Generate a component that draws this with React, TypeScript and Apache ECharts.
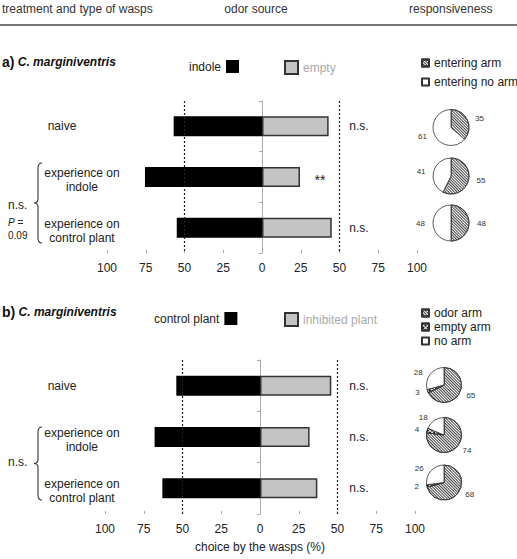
import React, { useEffect, useRef } from 'react';
import * as echarts from 'echarts';

// ---- data ----
const categories = ['naive', 'experience on\nindole', 'experience on\ncontrol plant'];
const indoleA = [57, 75.5, 55];
const emptyA = [43, 24.5, 45];
const sigA = ['n.s.', '**', 'n.s.'];
const controlB = [54, 68, 63];
const inhibitedB = [46, 32, 37];
const sigB = ['n.s.', 'n.s.', 'n.s.'];
const enteringArm = [35, 55, 48];
const enteringNoArm = [61, 41, 48];
const odorArm = [65, 74, 68];
const emptyArm = [3, 4, 2];
const noArm = [28, 18, 26];
const refLines = [-50, 50];

// ---- layout ----
const FONT = '"Liberation Sans", Arial, sans-serif';
const GA = { left: 107, top: 101, width: 310, height: 152 };
const GB = { left: 105, top: 360, width: 310, height: 154 };
const PIE_A = { x: 451, ys: [127.5, 176, 223], r: 18 };
const PIE_B = { x: 444, ys: [385, 435, 482.5], r: 17.5 };

const hatch = {
  symbol: 'rect', symbolSize: 1, color: '#444',
  dashArrayX: [1, 0], dashArrayY: [1, 1], rotation: Math.PI / 4,
};
const dense = {
  symbol: 'rect', symbolSize: 1, color: '#111',
  dashArrayX: [2, 1], dashArrayY: [2, 1], rotation: -Math.PI / 4,
};

function braceD(xr: number, y1: number, y2: number) {
  const xs = xr - 4;
  const xp = xr - 8;
  const ym = (y1 + y2) / 2;
  return `M ${xr} ${y1} Q ${xs} ${y1} ${xs} ${y1 + 5} L ${xs} ${ym - 4} Q ${xs} ${ym} ${xp} ${ym} Q ${xs} ${ym} ${xs} ${ym + 4} L ${xs} ${y2 - 5} Q ${xs} ${y2} ${xr} ${y2}`;
}

echarts.graphic.registerShape('braceA', echarts.graphic.extendPath(braceD(42, 163, 243), {}));
echarts.graphic.registerShape('braceB', echarts.graphic.extendPath(braceD(42, 427, 500), {}));

function bandY(g: { top: number; height: number }, i: number) {
  return g.top + (i + 0.5) * g.height / 3;
}

function catTexts(g: any) {
  return categories.map((c, i) => {
    const y = bandY(g, i);
    const multi = c.includes('\n');
    return {
      type: 'text',
      x: multi ? 82 : 62,
      y: multi ? y + 3 : y,
      style: {
        text: c, font: `12px ${FONT}`, fill: '#222',
        align: 'center', verticalAlign: 'middle', lineHeight: 14,
      },
    };
  });
}

function sigTexts(g: any, sig: string[]) {
  return sig.map((s, i) => ({
    type: 'text',
    x: s === '**' ? 320 : 359,
    y: bandY(g, i) + (s === '**' ? 3 : 0),
    style: { text: s, font: `${s === '**' ? 14 : 12}px ${FONT}`, fill: '#222', align: 'center', verticalAlign: 'middle' },
  }));
}

function axisPair(g: any, gi: number, withName: boolean) {
  const x: any = {
    type: 'value', gridIndex: gi, min: -100, max: 100, interval: 25,
    axisLine: { lineStyle: { color: '#aaa', width: 1 } },
    axisTick: { show: true, inside: true, length: 3, lineStyle: { color: '#aaa' } },
    splitLine: { show: false },
    axisLabel: { formatter: (v: number) => String(Math.abs(v)), fontSize: 12, color: '#222', fontFamily: FONT, margin: 9 },
  };
  if (withName) {
    Object.assign(x, {
      name: 'choice by the wasps (%)', nameLocation: 'middle', nameGap: 27,
      nameTextStyle: { fontSize: 12, color: '#222', fontFamily: FONT },
    });
  }
  const y: any = {
    type: 'category', gridIndex: gi, data: categories, inverse: true,
    axisLine: { onZero: true, lineStyle: { color: '#aaa', width: 1 } },
    axisTick: { show: true, length: 3, lineStyle: { color: '#aaa' } },
    axisLabel: { show: false },
  };
  return [x, y];
}

function barSeries(gi: number, leftName: string, leftVals: number[], rightName: string, rightVals: number[]) {
  return [
    {
      type: 'bar', name: leftName, xAxisIndex: gi, yAxisIndex: gi,
      data: leftVals.map((v) => -v), barWidth: 20,
      itemStyle: { color: '#000' },
      markLine: {
        silent: true, symbol: ['none', 'none'], label: { show: false },
        lineStyle: { type: [2, 2], color: '#222', width: 1.2 },
        data: refLines.map((v) => ({ xAxis: v })),
      },
    },
    {
      type: 'bar', name: rightName, xAxisIndex: gi, yAxisIndex: gi,
      data: rightVals, barWidth: 20, barGap: '-100%',
      itemStyle: { color: '#c4c4c4', borderColor: '#333', borderWidth: 1.5 },
    },
  ];
}

const pieLabel = { show: true, position: 'outside', formatter: '{c}', fontSize: 8, color: '#333', fontFamily: FONT };

function pieSeriesA() {
  return PIE_A.ys.map((cy, i) => ({
    type: 'pie', center: [PIE_A.x, cy], radius: PIE_A.r, startAngle: 90, clockwise: true,
    avoidLabelOverlap: false, silent: true,
    label: pieLabel, labelLine: { show: false, length: 3, length2: 0 },
    itemStyle: { borderColor: '#333', borderWidth: 0.8 },
    data: [
      { name: 'entering arm', value: enteringArm[i], itemStyle: { color: '#fff', decal: hatch } },
      { name: 'entering no arm', value: enteringNoArm[i], itemStyle: { color: '#fff' } },
    ],
  }));
}

function pieSeriesB() {
  return PIE_B.ys.map((cy, i) => ({
    type: 'pie', center: [PIE_B.x, cy], radius: PIE_B.r, startAngle: 90, clockwise: true,
    avoidLabelOverlap: false, silent: true,
    label: pieLabel, labelLine: { show: false, length: 3, length2: 0 },
    itemStyle: { borderColor: '#333', borderWidth: 0.8 },
    data: [
      { name: 'odor arm', value: odorArm[i], itemStyle: { color: '#fff', decal: hatch } },
      { name: 'empty arm', value: emptyArm[i], itemStyle: { color: '#fff', decal: dense } },
      { name: 'no arm', value: noArm[i], itemStyle: { color: '#fff' } },
    ],
  }));
}

const legendBase = {
  icon: 'rect', selectedMode: false,
  textStyle: { fontSize: 12, color: '#222', fontFamily: FONT },
};

export default function App() {
  const ref = useRef<HTMLDivElement>(null);
  useEffect(() => {
    if (!ref.current) return;
    const chart = echarts.init(ref.current, undefined, { renderer: 'svg' });
    const [xa, ya] = axisPair(GA, 0, false);
    const [xb, yb] = axisPair(GB, 1, true);
    const option: any = {
      animation: false,
      backgroundColor: '#fff',
      grid: [
        { ...GA, containLabel: false },
        { ...GB, containLabel: false },
      ],
      xAxis: [xa, xb],
      yAxis: [ya, yb],
      legend: [
        { ...legendBase, data: ['indole'], left: 184, top: 55, align: 'right', itemWidth: 13, itemHeight: 13 },
        { ...legendBase, data: [{ name: 'empty', textStyle: { color: '#aaa' } }], left: 279, top: 55, align: 'left', itemWidth: 13, itemHeight: 13 },
        { ...legendBase, data: ['entering arm', 'entering no arm'], left: 416, top: 52, orient: 'vertical', itemWidth: 7, itemHeight: 7, itemGap: 7 },
        { ...legendBase, data: ['control plant'], left: 149, top: 307, align: 'right', itemWidth: 13, itemHeight: 13 },
        { ...legendBase, data: [{ name: 'inhibited plant', textStyle: { color: '#aaa' } }], left: 279, top: 307, align: 'left', itemWidth: 13, itemHeight: 13 },
        { ...legendBase, data: ['odor arm', 'empty arm', 'no arm'], left: 416, top: 302, orient: 'vertical', itemWidth: 7, itemHeight: 7, itemGap: 2 },
      ],
      series: [
        ...barSeries(0, 'indole', indoleA, 'empty', emptyA),
        ...barSeries(1, 'control plant', controlB, 'inhibited plant', inhibitedB),
        ...pieSeriesA(),
        ...pieSeriesB(),
      ],
      graphic: [
        { type: 'text', x: 2, y: 9, style: { text: 'treatment and type of wasps', font: `12px ${FONT}`, fill: '#333', verticalAlign: 'middle' } },
        { type: 'text', x: 256, y: 9, style: { text: 'odor source', font: `12px ${FONT}`, fill: '#333', align: 'center', verticalAlign: 'middle' } },
        { type: 'text', x: 409, y: 9, style: { text: 'responsiveness', font: `12px ${FONT}`, fill: '#333', verticalAlign: 'middle' } },
        { type: 'line', shape: { x1: 0, y1: 25, x2: 517, y2: 25 }, style: { stroke: '#777', lineWidth: 2 } },
        {
          type: 'text', x: 2, y: 62,
          style: {
            text: '{a|a)} {c|C. marginiventris}', verticalAlign: 'middle',
            rich: {
              a: { font: `bold 14px ${FONT}`, fill: '#111' },
              c: { font: `italic bold 12px ${FONT}`, fill: '#111' },
            },
          },
        },
        {
          type: 'text', x: 2, y: 312,
          style: {
            text: '{a|b)} {c|C. marginiventris}', verticalAlign: 'middle',
            rich: {
              a: { font: `bold 14px ${FONT}`, fill: '#111' },
              c: { font: `italic bold 12px ${FONT}`, fill: '#111' },
            },
          },
        },
        ...catTexts(GA),
        ...catTexts(GB),
        ...sigTexts(GA, sigA),
        ...sigTexts(GB, sigB),
        { type: 'braceA', style: { fill: 'none', stroke: '#333', lineWidth: 1.1 } },
        { type: 'braceB', style: { fill: 'none', stroke: '#333', lineWidth: 1.1 } },
        { type: 'text', x: 8, y: 205, style: { text: 'n.s.', font: `12px ${FONT}`, fill: '#222', verticalAlign: 'middle' } },
        { type: 'text', x: 8, y: 222, style: { text: '{p|P} =', font: `10px ${FONT}`, fill: '#222', verticalAlign: 'middle', rich: { p: { font: `italic 10px ${FONT}`, fill: '#222' } } } },
        { type: 'text', x: 8, y: 235, style: { text: '0.09', font: `10px ${FONT}`, fill: '#222', verticalAlign: 'middle' } },
        { type: 'text', x: 8, y: 462, style: { text: 'n.s.', font: `12px ${FONT}`, fill: '#222', verticalAlign: 'middle' } },
      ],
    };
    chart.setOption(option);
    return () => chart.dispose();
  }, []);
  return (
    <div
      ref={ref}
      style={{ position: 'absolute', left: 0, top: 0, width: 517, height: 559, background: '#fff' }}
    />
  );
}
